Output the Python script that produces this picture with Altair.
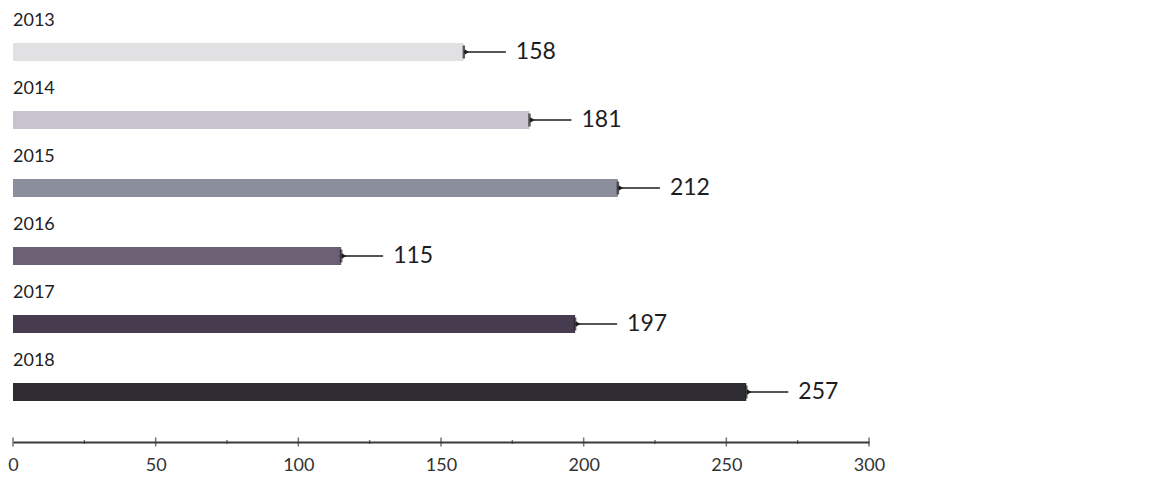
import altair as alt
import pandas as pd

years = ["2013", "2014", "2015", "2016", "2017", "2018"]
values = [158, 181, 212, 115, 197, 257]
colors = ["#e1e1e3", "#c8c3ce", "#8b8f9d", "#6b6074", "#473c4f", "#2e2b32"]
tick_values = [0, 25, 50, 75, 100, 125, 150, 175, 200, 225, 250, 275, 300]
label_values = [0, 50, 100, 150, 200, 250, 300]

df = pd.DataFrame({"year": years, "value": values, "idx": list(range(len(years)))})
ticks = pd.DataFrame({"t": tick_values, "major": [v in label_values for v in tick_values]})

FONT = "Lato"
INK = "#1d1d1f"
Y_TOP = -44 / 68
Y_BOT = 390 / 68

yenc = alt.Y("idx:Q", scale=alt.Scale(domain=[Y_TOP, Y_BOT], reverse=True, nice=False,
                                      zero=False, padding=0), axis=None)
xscale = alt.Scale(domain=[0, 300], nice=False, zero=True, padding=0)
xaxis = alt.Axis(values=label_values, ticks=False, grid=False, domainColor="#3a3a3a", domainWidth=1.8,
                 labelFont=FONT, labelFontSize=18, labelColor="#333", labelPadding=14,
                 labelFlush=False, labelOverlap=False)

base = alt.Chart(df)

bars = base.mark_bar(size=18, orient="horizontal").encode(
    x=alt.X("value:Q", scale=xscale, title=None, axis=xaxis),
    x2=alt.datum(0),
    y=yenc,
    color=alt.Color("year:N", scale=alt.Scale(domain=years, range=colors), legend=None),
)

lines = base.mark_rule(x2Offset=42, strokeWidth=1.3, color=INK).encode(
    x=alt.X("value:Q", scale=xscale, title=None, axis=xaxis), x2="value:Q", y=yenc)

marker = base.mark_tick(orient="vertical", thickness=2.5, size=13, color=INK).encode(
    x=alt.X("value:Q", scale=xscale, title=None, axis=xaxis), y=yenc)

tri = base.mark_point(shape="triangle-right", filled=True, size=28, xOffset=3, color=INK, opacity=1).encode(
    x=alt.X("value:Q", scale=xscale, title=None, axis=xaxis), y=yenc)

vlabels = base.mark_text(align="left", baseline="middle", dx=52, fontSize=23, font=FONT, color=INK).encode(
    x=alt.X("value:Q", scale=xscale, title=None, axis=xaxis), y=yenc, text="value:Q")

ylabels = base.mark_text(align="left", baseline="middle", dy=-31, fontSize=18, font=FONT, color=INK).encode(
    x=alt.datum(0), y=yenc, text="year:N")

axis_ticks = alt.Chart(ticks).mark_tick(orient="vertical", thickness=1.5, color="#3a3a3a").encode(
    x=alt.X("t:Q", scale=xscale, title=None, axis=xaxis),
    y=alt.datum(Y_BOT),
    size=alt.condition("datum.major", alt.value(9), alt.value(4)),
)

chart = alt.layer(bars, lines, marker, tri, vlabels, ylabels, axis_ticks).properties(
    width=856, height=434,
    autosize=alt.AutoSizeParams(type="none"),
    padding={"left": 5, "top": 0, "right": 20, "bottom": 40},
).configure_view(stroke=None)

chart.save("out.html", embed_options={"renderer": "svg", "actions": False})
